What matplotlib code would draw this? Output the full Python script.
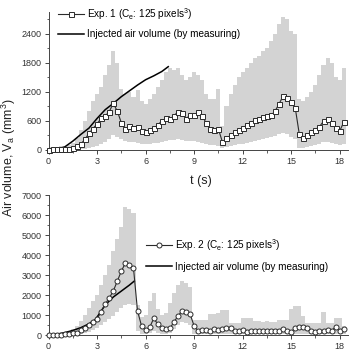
import numpy as np
import matplotlib
matplotlib.use("Agg")
import matplotlib.pyplot as plt
from matplotlib.ticker import MultipleLocator

plt.rcParams.update({'font.family': ['Liberation Sans', 'DejaVu Sans'],
                     'mathtext.default': 'regular',
                     'font.size': 6.5})

# sampling step of the measurements (s)
DT = 0.25

# Exp. 1 : mean air volume and the range (grey bars)
exp1_mean = [0, 10, 10, 15, 15, 20, 30, 70, 120, 220, 340, 440, 540, 650, 700, 790,
             960, 800, 560, 430, 490, 460, 470, 380, 370, 410, 450, 510, 600, 650,
             640, 700, 790, 760, 640, 720, 730, 780, 700, 550, 440, 420, 430, 160,
             240, 300, 360, 410, 450, 510, 560, 610, 640, 670, 690, 710, 800, 950,
             1110, 1080, 980, 870, 330, 250, 300, 360, 420, 480, 590, 640, 560, 450,
             390, 570]
exp1_upper = [50, 50, 60, 70, 80, 100, 150, 250, 400, 600, 800, 1000, 1150, 1300, 1550,
              1750, 2050, 1800, 1250, 1150, 1200, 1100, 1230, 1000, 950, 1050, 1150,
              1300, 1450, 1600, 1700, 1650, 1700, 1550, 1450, 1500, 1600, 1550, 1450,
              1150, 1050, 1050, 1250, 500, 900, 1150, 1350, 1500, 1600, 1700, 1800,
              1900, 1950, 2050, 2100, 2250, 2400, 2600, 2750, 2700, 2450, 2400, 1050,
              1000, 1100, 1200, 1350, 1550, 1750, 1900, 1800, 1500, 1450, 1700]
exp1_lower = [0, 0, 0, 0, 0, 0, 0, 0, 10, 20, 30, 50, 80, 120, 160, 220, 300, 260, 220,
              180, 170, 160, 150, 130, 110, 120, 140, 150, 170, 190, 200, 210, 220, 210,
              190, 180, 180, 170, 150, 120, 100, 90, 80, 30, 50, 70, 90, 110, 130, 150,
              170, 190, 200, 220, 240, 260, 290, 320, 350, 320, 270, 230, 30, 40, 60, 80,
              100, 130, 160, 170, 150, 120, 100, 130]
inj1_t = [0, 0.5, 1.0, 1.5, 2.0, 2.5, 3.0, 3.5, 4.0, 4.5, 5.0, 5.5, 6.0, 6.5, 7.0, 7.4]
inj1_v = [0, 10, 60, 180, 320, 450, 650, 830, 960, 1100, 1220, 1340, 1450, 1530, 1620, 1720]

# Exp. 2
exp2_mean = [20, 20, 20, 20, 30, 50, 80, 120, 230, 360, 500, 650, 820, 1150, 1550, 1850,
             2200, 2700, 3200, 3600, 3500, 3350, 1200, 450, 250, 380, 830, 550, 350, 300,
             330, 650, 950, 1200, 1150, 1050, 450, 200, 230, 250, 220, 280, 250, 300, 350,
             330, 200, 180, 250, 170, 200, 180, 200, 190, 200, 180, 220, 180, 300, 180,
             150, 350, 400, 380, 350, 200, 150, 200, 180, 250, 200, 420, 180, 300]
exp2_upper = [50, 60, 80, 100, 150, 200, 300, 450, 700, 1000, 1350, 1700, 2000, 2500, 3000,
              3500, 4200, 4800, 5400, 6400, 6300, 6100, 1500, 900, 1000, 1700, 2100, 1300,
              1000, 1100, 1600, 2100, 2500, 2700, 2600, 2400, 750, 750, 750, 750, 1050,
              1050, 1100, 1250, 1250, 600, 580, 600, 850, 850, 850, 700, 680, 650, 700,
              650, 650, 750, 750, 750, 1300, 1450, 1450, 950, 600, 580, 600, 580, 1150,
              600, 580, 850, 850, 450]
exp2_lower = [0, 0, 0, 0, 0, 0, 0, 20, 50, 100, 150, 250, 350, 500, 650, 800, 950, 1150,
              1350, 1500, 1550, 1500, 200, 50, 50, 100, 200, 100, 50, 50, 100, 300, 500,
              650, 600, 500, 50, 30, 30, 30, 30, 30, 30, 30, 30, 30, 30, 30, 30, 30, 30,
              30, 30, 30, 30, 30, 30, 30, 30, 30, 30, 30, 30, 30, 30, 30, 30, 30, 30, 30,
              30, 30, 30, 30]
inj2_t = [0, 0.5, 1.0, 1.5, 2.0, 2.5, 2.9, 3.5, 4.0, 4.5, 5.0, 5.3]
inj2_v = [0, 40, 120, 230, 370, 560, 780, 1500, 1900, 2200, 2500, 2700]

grey = '#d3d3d3'
dark = '#2b2b2b'

fig = plt.figure(figsize=(3.52, 3.55), dpi=100)
ax1 = fig.add_axes([0.138, 0.578, 0.850, 0.388])
ax2 = fig.add_axes([0.138, 0.0563, 0.850, 0.394])


def panel(ax, mean, upper, lower, inj_t, inj_v, marker, label, ymax, major, minor):
    t = np.arange(len(mean)) * DT
    lo = np.array(lower)
    ax.bar(t, np.array(upper) - lo, bottom=lo, width=DT, color=grey, linewidth=0, zorder=1)
    ax.plot(t, mean, color=dark, lw=0.8, marker=marker, ms=3.6, mfc='white',
            mec=dark, mew=0.7, label=label, zorder=3, clip_on=False)
    ax.plot(inj_t, inj_v, color='black', lw=1.1, label='Injected air volume (by measuring)',
            zorder=2)
    ax.set_xlim(0, 18.5)
    ax.set_ylim(0, ymax)
    ax.xaxis.set_major_locator(MultipleLocator(3))
    ax.xaxis.set_minor_locator(MultipleLocator(1.5))
    ax.yaxis.set_major_locator(MultipleLocator(major))
    ax.yaxis.set_minor_locator(MultipleLocator(minor))
    ax.spines['top'].set_visible(False)
    ax.spines['right'].set_visible(False)
    for s in ('left', 'bottom'):
        ax.spines[s].set_linewidth(0.7)
        ax.spines[s].set_color('#444444')
    ax.tick_params(which='major', direction='out', length=3, width=0.7,
                   colors='#444444', labelcolor='#333333', labelsize=6.5, pad=2)
    ax.tick_params(which='minor', direction='out', length=1.8, width=0.6, colors='#444444')


panel(ax1, exp1_mean, exp1_upper, exp1_lower, inj1_t, inj1_v, 's',
      r'Exp. 1 (C$_e$: 125 pixels$^3$)', 2850, 600, 300)
panel(ax2, exp2_mean, exp2_upper, exp2_lower, inj2_t, inj2_v, 'o',
      r'Exp. 2 (C$_e$: 125 pixels$^3$)', 7000, 1000, 500)

ax1.legend(loc='upper left', bbox_to_anchor=(0.0, 1.11), frameon=False, fontsize=7.2,
           handlelength=2.6, handletextpad=0.3, labelspacing=0.75)
ax2.legend(loc='upper left', bbox_to_anchor=(0.295, 0.765), frameon=False, fontsize=7.2,
           handlelength=2.6, handletextpad=0.3, labelspacing=0.9)

fig.text(0.57, 0.49, 't (s)', ha='center', va='center', fontsize=9, color='#222222')
fig.text(0.026, 0.555, r'Air volume, V$_a$ (mm$^3$)', ha='center', va='center',
         rotation=90, fontsize=9, color='#222222')

fig.savefig('out.png', dpi=100)
